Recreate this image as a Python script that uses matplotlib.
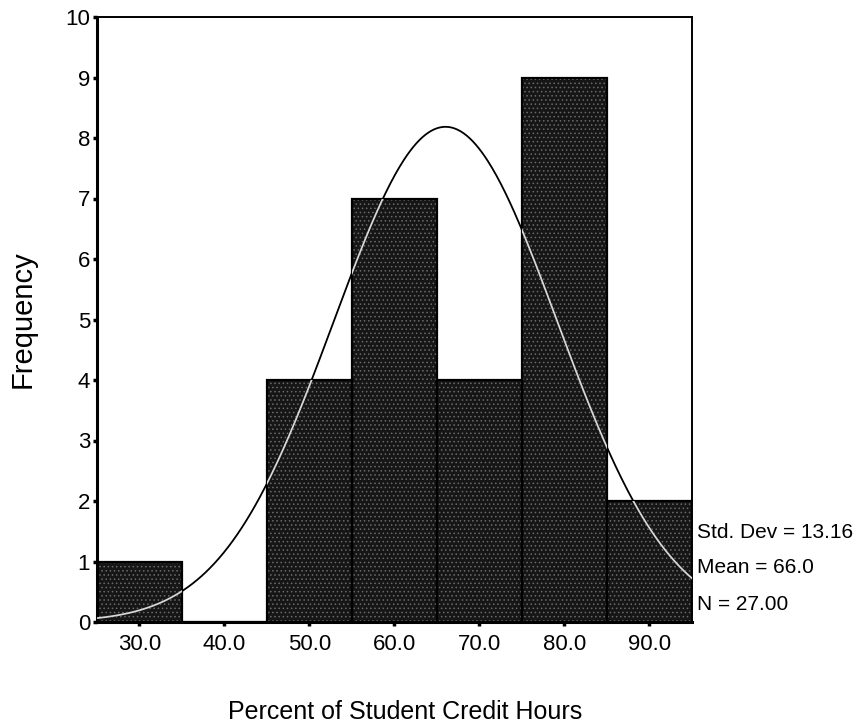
import numpy as np
import matplotlib.pyplot as plt

plt.rcParams['font.family'] = ['Liberation Sans', 'DejaVu Sans']
plt.rcParams['hatch.linewidth'] = 0.6

# histogram bins (percent of student credit hours) and counts
bin_edges = [25, 35, 45, 55, 65, 75, 85, 95]
counts = [1, 0, 4, 7, 4, 9, 2]
x_ticks = [30, 40, 50, 60, 70, 80, 90]
y_ticks = [0, 1, 2, 3, 4, 5, 6, 7, 8, 9, 10]

std_dev = 13.16
mean = 66.0
n = 27.00

fig = plt.figure(figsize=(8.62, 7.25), dpi=100)
ax = fig.add_axes([97 / 862, 1 - 622 / 725, 595 / 862, 605 / 725])

lefts = np.array(bin_edges[:-1])
widths = np.diff(bin_edges)

# dark speckled bars
ax.bar(lefts, counts, width=widths, align='edge', color='#161616',
       edgecolor='#6a6a6a', hatch='....', linewidth=0, zorder=2)
bars = ax.bar(lefts, counts, width=widths, align='edge', fill=False,
              edgecolor='black', linewidth=1.6, zorder=3)

# fitted normal curve, drawn light where it crosses the bars
bw = widths[0]
xs = np.linspace(bin_edges[0], bin_edges[-1], 400)
ys = n * bw / (std_dev * np.sqrt(2 * np.pi)) * np.exp(-0.5 * ((xs - mean) / std_dev) ** 2)
ax.plot(xs, ys, color='black', linewidth=1.3, zorder=4)
for b in bars:
    if b.get_height() == 0:
        continue
    line, = ax.plot(xs, ys, color='#d8d8d8', linewidth=1.3, zorder=5)
    line.set_clip_path(b)

ax.set_xlim(bin_edges[0], bin_edges[-1])
ax.set_ylim(0, 10)
ax.set_xticks(x_ticks)
ax.set_xticklabels([f'{v:.1f}' for v in x_ticks])
ax.set_yticks(y_ticks)
ax.tick_params(axis='both', labelsize=16, length=3, width=2.5, direction='out')
ax.tick_params(axis='x', pad=6)
ax.tick_params(axis='y', pad=2)

ax.spines['left'].set_linewidth(2.2)
ax.spines['bottom'].set_linewidth(2.2)
ax.spines['top'].set_linewidth(1.4)
ax.spines['right'].set_linewidth(1.4)

ax.set_ylabel('Frequency', fontsize=21)
ax.yaxis.set_label_coords(-0.101, 0.5)
fig.text(405 / 862, 1 - 712 / 725, 'Percent of Student Credit Hours',
         fontsize=18, ha='center', va='center')

stats = [f'Std. Dev = {std_dev:.2f}', f'Mean = {mean:.1f}', f'N = {n:.2f}']
baselines = [538, 573, 610]
for s, yb in zip(stats, baselines):
    fig.text(697 / 862, 1 - yb / 725, s, fontsize=15,
             ha='left', va='baseline')

fig.savefig('out.png', dpi=100)
